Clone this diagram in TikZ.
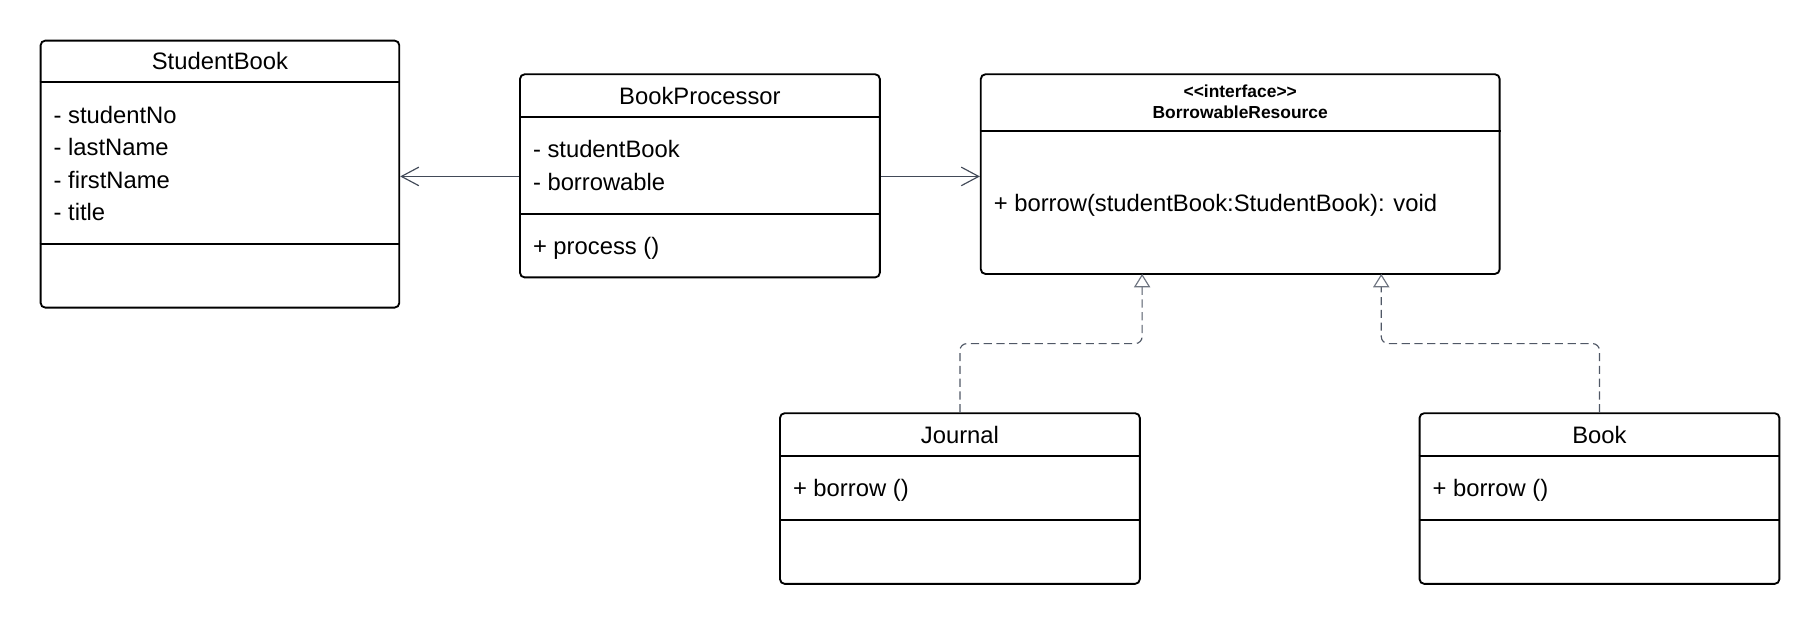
\documentclass[tikz,border=0pt]{standalone}
\usepackage{fontspec}
\setmainfont{Liberation Sans}
\usetikzlibrary{arrows.meta}
\definecolor{linec}{RGB}{66,74,88}
\definecolor{dashc}{RGB}{80,88,102}
\definecolor{tric}{RGB}{110,116,128}
\begin{document}
\begin{tikzpicture}[x=1pt,y=1pt,
  cls/.style={draw=black, line width=1.6pt, rounded corners=4pt, inner sep=0pt, fill=white},
  sepline/.style={draw=black, line width=1.6pt},
  txt/.style={anchor=base west, inner sep=0pt, font=\fontsize{20.5}{24}\selectfont},
  ttl/.style={anchor=base, inner sep=0pt, font=\fontsize{20.5}{24}\selectfont},
  stereo/.style={anchor=base, inner sep=0pt, font=\fontsize{15}{17}\selectfont\bfseries},
  assoc/.style={draw=linec, line width=1pt, -{Straight Barb[length=15pt,width=16pt,line width=1pt]}},
  real/.style={draw=dashc, line width=1pt, dash pattern=on 7pt off 4pt, rounded corners=6pt,
    -{Triangle[length=11.5pt,width=14pt,fill=white,color=tric,line width=1pt]}}
]
\useasboundingbox (0,0) rectangle (1568,-539);

% StudentBook
\node[cls, minimum width=309pt, minimum height=230pt] (sb) at (189.5,-150) {};
\draw[sepline] (sb.west |- 0,-71) -- (sb.east |- 0,-71);
\draw[sepline] (sb.west |- 0,-210) -- (sb.east |- 0,-210);
\node[ttl] (sbt) at (189.5,-60) {StudentBook};
\node[txt] (sba1) at (46,-106) {- studentNo};
\node[txt] (sba2) at (46,-134) {- lastName};
\node[txt] (sba3) at (46,-162) {- firstName};
\node[txt] (sba4) at (46,-190) {- title};

% BookProcessor
\node[cls, minimum width=310pt, minimum height=175pt] (bp) at (603,-151.5) {};
\draw[sepline] (bp.west |- 0,-101) -- (bp.east |- 0,-101);
\draw[sepline] (bp.west |- 0,-184) -- (bp.east |- 0,-184);
\node[ttl] (bpt) at (603,-90) {BookProcessor};
\node[txt] (bpa1) at (459,-136) {- studentBook};
\node[txt] (bpa2) at (459,-164) {- borrowable};
\node[txt] (bpm1) at (459,-219) {+ process ()};

% BorrowableResource
\node[cls, minimum width=447pt, minimum height=172pt] (br) at (1068.5,-150) {};
\draw[sepline] (br.west |- 0,-113) -- (br.east |- 0,-113);
\node[stereo] (brs) at (1068.5,-84) {<\kern0pt<interface>\kern0pt>};
\node[stereo] (brt) at (1068.5,-102) {BorrowableResource};
\node[txt] (brm1) at (856,-182) {+ borrow(studentBook:StudentBook): void};

% Journal
\node[cls, minimum width=310pt, minimum height=147pt] (jn) at (827,-429.5) {};
\draw[sepline] (jn.west |- 0,-393) -- (jn.east |- 0,-393);
\draw[sepline] (jn.west |- 0,-448) -- (jn.east |- 0,-448);
\node[ttl] (jnt) at (827,-382) {Journal};
\node[txt] (jnm1) at (683,-428) {+ borrow ()};

% Book
\node[cls, minimum width=310pt, minimum height=147pt] (bk) at (1378,-429.5) {};
\draw[sepline] (bk.west |- 0,-393) -- (bk.east |- 0,-393);
\draw[sepline] (bk.west |- 0,-448) -- (bk.east |- 0,-448);
\node[ttl] (bkt) at (1378,-382) {Book};
\node[txt] (bkm1) at (1234,-428) {+ borrow ()};

% associations
\draw[assoc] (bp.west |- 0,-152) -- (sb.east |- 0,-152);
\draw[assoc] (bp.east |- 0,-152) -- (br.west |- 0,-152);

% realizations
\coordinate (t1) at (984,-236);
\coordinate (t2) at (1190,-236);
\coordinate (m1) at (984,-296);
\coordinate (m2) at (1190,-296);
\draw[real] (jn.north) |- (m1) -- (t1);
\draw[real] (bk.north) |- (m2) -- (t2);
\end{tikzpicture}
\end{document}
